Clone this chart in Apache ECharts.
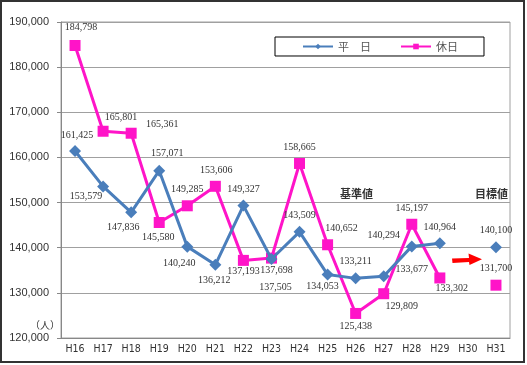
<!DOCTYPE html>
<html><head><meta charset="utf-8">
<script src="https://cdn.jsdelivr.net/npm/echarts@6/dist/echarts.min.js"></script>
<style>html,body{margin:0;padding:0;background:#fff}#c{width:527px;height:365px}</style>
</head><body><div id="c"></div>
<script>
const categories = ['H16','H17','H18','H19','H20','H21','H22','H23','H24','H25','H26','H27','H28','H29','H30','H31'];
const weekday = [161425,153579,147836,157071,140240,136212,149327,137505,143509,134053,133211,133677,140294,140964,null,140100];
const holiday = [184798,165801,165361,145580,149285,153606,137193,137698,158665,140652,125438,129809,145197,133302,null,131700];
const yTicks = [120000,130000,140000,150000,160000,170000,180000,190000];
const seriesNames = ['平　日','休日'];

// label placement (pixel offsets from each point) — styling only
const weekdayLabelOffsets = [[2,-16],[-17,10],[-8,15],[8,-17],[-8,17],[-1,16],[0,-16],[4,28],[0,-16],[-5,12],[0,-17],[28,-7],[-28,-11],[0,-16],[0,0],[0,-17]];
const holidayLabelOffsets = [[6,-18],[18,-14],[31,-9],[-1,15],[0,-16],[1,-16],[0,11],[5,12],[0,-16],[14,-16],[0,13],[18,13],[0,-16],[12,10],[0,0],[0,-17]];

const fmt = v => String(v).replace(/\B(?=(\d{3})+(?!\d))/g, ',');
function build(vals, offs){
  return vals.map((v,i)=> v==null ? null : ({value:v, label:{offset:offs[i]}}));
}
const labelStyle = {show:true, position:'inside', align:'center', verticalAlign:'middle',
  fontFamily:'"Liberation Serif", serif', fontSize:10, color:'#333',
  formatter: p => fmt(p.value)};

const chart = echarts.init(document.getElementById('c'), null, {renderer:'canvas'});
chart.setOption({
  animation:false,
  backgroundColor:'#fff',
  grid:{left:61, right:17, top:22, bottom:27, show:true, borderColor:'#a0a0a0', borderWidth:1},
  legend:{
    left:275, top:37, orient:'horizontal',
    data:seriesNames,
    borderColor:'#000', borderWidth:1, padding:[4,26,4,27], itemGap:29,
    itemWidth:30, itemHeight:7,
    textStyle:{fontFamily:'"Noto Sans CJK JP", sans-serif', fontSize:11, color:'#555'}
  },
  xAxis:{
    type:'category', data:categories, boundaryGap:true,
    axisLine:{lineStyle:{color:'#888', width:1}},
    axisTick:{alignWithLabel:true, length:3, lineStyle:{color:'#888'}},
    axisLabel:{fontFamily:'"DejaVu Sans Condensed",sans-serif', fontSize:10.5, color:'#333', margin:6, interval:0}
  },
  yAxis:{
    type:'value', min:yTicks[0], max:yTicks[yTicks.length-1], interval:10000,
    axisLine:{show:true, lineStyle:{color:'#888', width:1}},
    axisTick:{show:true, length:4, lineStyle:{color:'#888'}},
    splitLine:{lineStyle:{color:'#a0a0a0', width:1}},
    axisLabel:{fontFamily:'"Liberation Sans",sans-serif', fontSize:11, color:'#333', margin:12,
      formatter: v => fmt(v)}
  },
  series:[
    {name:seriesNames[0], type:'line', data:build(weekday, weekdayLabelOffsets), connectNulls:false,
     symbol:'diamond', symbolSize:12, itemStyle:{color:'#4a7ebb'}, lineStyle:{color:'#4a7ebb', width:3},
     label:labelStyle, z:3},
    {name:seriesNames[1], type:'line', data:build(holiday, holidayLabelOffsets), connectNulls:false,
     symbol:'rect', symbolSize:11, itemStyle:{color:'#ff14c8'}, lineStyle:{color:'#ff14c8', width:3},
     label:labelStyle, z:2}
  ],
  graphic:[
    {type:'rect', shape:{x:1, y:1, width:523, height:361}, style:{fill:null, stroke:'#333', lineWidth:2}, silent:true},
    {type:'text', left:30, top:320, style:{text:'（人）', font:'10px "Noto Sans CJK JP", sans-serif', fill:'#333'}},
    {type:'text', left:340, top:188, style:{text:'基準値', font:'bold 11px "Noto Sans CJK JP", sans-serif', fill:'#333'}},
    {type:'text', left:475, top:188, style:{text:'目標値', font:'bold 11px "Noto Sans CJK JP", sans-serif', fill:'#333'}},
    {type:'polygon', shape:{points:[[452,258.5],[469,258],[468.5,253.5],[482,259.3],[469.5,265],[469,262],[452.5,263]]},
     style:{fill:'#ff0000'}, silent:true}
  ]
});
</script></body></html>
